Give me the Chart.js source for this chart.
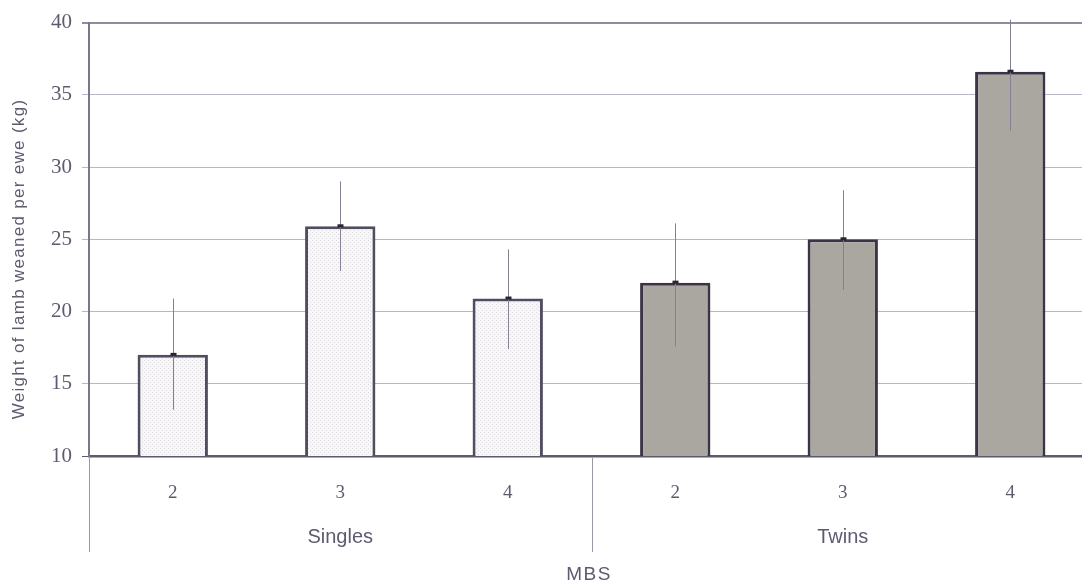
<!DOCTYPE html>
<html>
<head>
<meta charset="utf-8">
<script src="https://cdn.jsdelivr.net/npm/chart.js@4"></script>
<style>
  html, body { margin: 0; padding: 0; background: #fff; overflow: hidden; }
  #wrap { width: 1094px; height: 584px; position: relative; }
</style>
</head>
<body>
<div id="wrap"><canvas id="chart"></canvas></div>
<script>
const mbs = ["2", "3", "4", "2", "3", "4"];
const groups = ["Singles", "Twins"];
const groupOf = [0, 0, 0, 1, 1, 1];
const weights = [17.0, 25.9, 20.9, 22.0, 25.0, 36.6];
const errLow = [13.2, 22.8, 17.4, 17.6, 21.5, 32.5];
const errHigh = [20.9, 29.0, 24.3, 26.1, 28.4, 40.2];
const yTitle = "Weight of lamb weaned per ewe (kg)";
const xTitle = "MBS";

const textColor = "#5e5a70";
const sans = "'Liberation Sans', Arial, sans-serif";
const serif = "'Liberation Serif', 'Times New Roman', serif";

// light dotted fill used for the singles bars
function dotPattern(ctx) {
  const c = document.createElement("canvas");
  c.width = 4;
  c.height = 4;
  const g = c.getContext("2d");
  g.fillStyle = "#f8f7f8";
  g.fillRect(0, 0, 4, 4);
  g.fillStyle = "#dddadf";
  g.fillRect(0, 0, 1, 1);
  g.fillRect(2, 2, 1, 1);
  return ctx.createPattern(c, "repeat");
}

const errorBars = {
  id: "errorBars",
  afterDatasetsDraw(chart) {
    const { ctx, scales: { x, y } } = chart;
    ctx.save();
    weights.forEach((v, i) => {
      const px = Math.round(x.getPixelForValue(i)) + 0.5;
      ctx.strokeStyle = "#857e94";
      ctx.lineWidth = 1;
      ctx.beginPath();
      ctx.moveTo(px, y.getPixelForValue(errHigh[i]));
      ctx.lineTo(px, y.getPixelForValue(errLow[i]));
      ctx.stroke();
      ctx.fillStyle = "#2a2433";
      ctx.fillRect(px - 3, y.getPixelForValue(v) - 2, 6, 3);
    });
    ctx.restore();
  }
};

const extraLabels = {
  id: "extraLabels",
  afterDraw(chart) {
    const { ctx, scales: { x, y } } = chart;
    ctx.save();
    // group separators below the axis
    ctx.strokeStyle = "#9a97a8";
    ctx.lineWidth = 1;
    const mid = (x.getPixelForValue(2) + x.getPixelForValue(3)) / 2;
    [x.left, mid].forEach((sx) => {
      const px = Math.round(sx) + 0.5;
      ctx.beginPath();
      ctx.moveTo(px, y.bottom + 2);
      ctx.lineTo(px, 552);
      ctx.stroke();
    });
    // group names
    ctx.fillStyle = textColor;
    ctx.font = "20px " + sans;
    ctx.textAlign = "center";
    ctx.textBaseline = "middle";
    groups.forEach((g, gi) => {
      const idx = groupOf.indexOf(gi) + 1;
      ctx.fillText(g, x.getPixelForValue(idx), 537);
    });
    ctx.font = "19px " + sans;
    ctx.letterSpacing = "1.5px";
    ctx.fillText(xTitle, 589, 575);
    // y title
    ctx.translate(19, 259);
    ctx.rotate(-Math.PI / 2);
    ctx.font = "17px " + sans;
    ctx.letterSpacing = "1.3px";
    ctx.fillText(yTitle, 0, 0);
    ctx.restore();
  }
};

const canvas = document.getElementById("chart");
const ctx = canvas.getContext("2d");
const pattern = dotPattern(ctx);

new Chart(ctx, {
  type: "bar",
  data: {
    labels: mbs,
    datasets: [
      {
        label: "Weight",
        data: weights,
        backgroundColor: groupOf.map((g) => (g === 0 ? pattern : "#a9a7a0")),
        borderColor: groupOf.map((g) => (g === 0 ? "#514c60" : "#3b3447")),
        borderWidth: 3,
        borderSkipped: false,
        barPercentage: 0.42,
        categoryPercentage: 1,
      },
    ],
  },
  options: {
    responsive: true,
    maintainAspectRatio: false,
    animation: false,
    layout: { padding: { top: 21, right: 0, left: 0, bottom: 0 } },
    plugins: {
      legend: { display: false },
      tooltip: { enabled: false },
    },
    scales: {
      x: {
        grid: { display: false, drawTicks: false },
        border: { display: true, color: "#5d5a6b", width: 2.5 },
        ticks: {
          padding: 26,
          color: textColor,
          font: { family: serif, size: 19 },
        },
        afterFit: (s) => { s.height = 128; },
      },
      y: {
        min: 10,
        max: 40,
        ticks: {
          stepSize: 5,
          padding: 10,
          color: textColor,
          font: { family: serif, size: 21 },
        },
        grid: {
          tickLength: 7,
          color: (c) => (c.tick.value === 40 ? "#8f8c9e" : c.tick.value === 10 ? "#5d5a6b" : "#b8b5c6"),
          lineWidth: (c) => (c.tick.value === 40 ? 2 : 1),
        },
        border: { display: true, color: "#7a778a", width: 2 },
        afterFit: (s) => { s.width = 89; },
      },
    },
  },
  plugins: [errorBars, extraLabels],
});
</script>
</body>
</html>
